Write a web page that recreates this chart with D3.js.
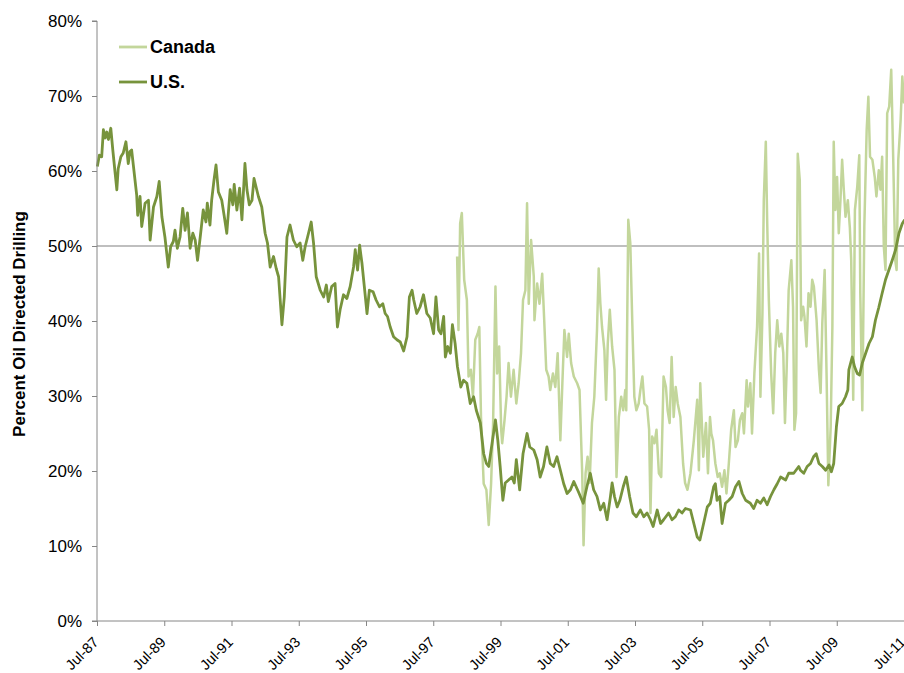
<!DOCTYPE html>
<html><head><meta charset="utf-8">
<script src="https://cdn.jsdelivr.net/npm/d3@7"></script>
<style>body{margin:0;background:#fff} svg{display:block}</style>
</head><body>
<svg id="c" width="904" height="673"></svg>
<script>
// ---- data ----
const tickLabels = ["Jul-87","Jul-89","Jul-91","Jul-93","Jul-95","Jul-97","Jul-99","Jul-01","Jul-03","Jul-05","Jul-07","Jul-09","Jul-11"];
const tickYears = [1987.5,1989.5,1991.5,1993.5,1995.5,1997.5,1999.5,2001.5,2003.5,2005.5,2007.5,2009.5,2011.5];
const yTicks = [0,10,20,30,40,50,60,70,80];
const seriesNames = ["Canada","U.S."];
const referenceLevel = 50;

const usDates = [1987.51,1987.57,1987.64,1987.69,1987.74,1987.79,1987.84,1987.91,1987.97,1988.04,1988.09,1988.13,1988.21,1988.28,1988.36,1988.43,1988.48,1988.53,1988.58,1988.68,1988.71,1988.78,1988.83,1988.93,1989.03,1989.08,1989.18,1989.28,1989.35,1989.43,1989.52,1989.62,1989.69,1989.77,1989.82,1989.89,1989.97,1990.05,1990.12,1990.19,1990.27,1990.35,1990.42,1990.49,1990.57,1990.66,1990.74,1990.78,1990.86,1990.91,1990.98,1991.04,1991.11,1991.21,1991.28,1991.36,1991.46,1991.54,1991.58,1991.66,1991.74,1991.81,1991.90,1991.96,1992.03,1992.11,1992.17,1992.30,1992.40,1992.50,1992.57,1992.65,1992.75,1992.83,1992.90,1993.00,1993.07,1993.15,1993.24,1993.34,1993.44,1993.54,1993.62,1993.69,1993.79,1993.87,1993.94,1994.02,1994.14,1994.24,1994.32,1994.38,1994.48,1994.58,1994.65,1994.73,1994.83,1994.93,1995.03,1995.13,1995.18,1995.25,1995.31,1995.38,1995.45,1995.53,1995.60,1995.71,1995.80,1995.90,1996.00,1996.07,1996.14,1996.22,1996.32,1996.42,1996.52,1996.62,1996.72,1996.79,1996.87,1996.92,1997.01,1997.11,1997.21,1997.31,1997.41,1997.51,1997.58,1997.66,1997.73,1997.81,1997.86,1997.93,1998.01,1998.07,1998.15,1998.22,1998.32,1998.40,1998.50,1998.60,1998.70,1998.78,1998.90,1999.00,1999.08,1999.15,1999.25,1999.35,1999.42,1999.49,1999.57,1999.64,1999.74,1999.84,1999.91,1999.97,2000.07,2000.17,2000.29,2000.37,2000.49,2000.59,2000.68,2000.78,2000.88,2000.98,2001.08,2001.18,2001.28,2001.38,2001.48,2001.58,2001.68,2001.82,2001.96,2002.07,2002.17,2002.27,2002.37,2002.47,2002.57,2002.67,2002.77,2002.82,2002.89,2002.97,2003.05,2003.15,2003.24,2003.34,2003.44,2003.54,2003.66,2003.76,2003.86,2003.96,2004.04,2004.16,2004.26,2004.35,2004.50,2004.60,2004.70,2004.80,2004.90,2005.00,2005.15,2005.25,2005.35,2005.43,2005.54,2005.65,2005.74,2005.84,2005.89,2005.94,2006.02,2006.09,2006.19,2006.29,2006.39,2006.49,2006.59,2006.69,2006.79,2006.93,2007.03,2007.13,2007.23,2007.33,2007.43,2007.53,2007.63,2007.73,2007.83,2007.98,2008.07,2008.22,2008.37,2008.42,2008.52,2008.62,2008.72,2008.81,2008.89,2008.97,2009.07,2009.17,2009.27,2009.34,2009.41,2009.49,2009.56,2009.66,2009.76,2009.83,2009.86,2009.96,2010.03,2010.11,2010.18,2010.26,2010.36,2010.46,2010.56,2010.65,2010.75,2010.85,2010.95,2011.05,2011.15,2011.25,2011.35,2011.45,2011.52];
const usValues = [60.6,62.1,61.9,65.5,64.4,65.2,64.2,65.7,62.8,59.7,57.5,60.3,61.9,62.4,63.9,61.0,62.6,62.8,60.8,56.8,54.1,56.6,52.6,55.7,56.1,50.8,55.2,56.6,58.6,53.9,51.2,47.2,49.9,50.6,52.1,49.7,51.2,55.0,52.1,54.4,49.7,51.7,50.8,48.1,51.2,54.8,53.2,55.7,52.8,56.1,58.8,60.8,57.2,56.1,54.1,51.7,57.5,55.5,58.2,54.8,57.7,53.5,61.0,57.5,55.5,56.1,59.0,56.6,55.2,51.7,50.4,47.2,48.6,47.0,45.9,39.5,43.2,51.2,52.8,50.8,49.9,50.4,48.1,49.9,51.7,53.2,50.4,45.9,44.1,43.2,44.8,42.6,44.6,45.0,39.2,41.5,43.5,43.0,44.6,47.2,49.5,46.8,50.1,47.7,44.6,41.0,44.1,43.9,42.8,41.9,42.3,41.0,40.6,39.2,37.9,37.5,37.2,36.0,37.9,43.2,44.1,42.8,41.0,41.9,43.5,41.0,40.4,38.3,43.2,38.8,38.3,40.6,35.2,36.6,35.7,39.5,37.0,33.9,31.2,32.1,31.7,29.0,29.9,28.1,26.4,22.3,21.0,20.6,23.7,26.8,24.1,20.6,16.1,18.4,18.8,19.2,18.4,21.5,17.5,22.3,25.0,23.2,22.8,21.5,19.2,20.6,23.2,21.0,20.6,21.9,20.1,18.3,17.0,17.5,18.6,17.2,15.7,17.9,19.7,17.5,16.6,14.8,15.7,13.5,16.6,18.4,16.6,15.2,16.1,17.9,19.2,16.6,14.4,13.9,14.8,13.9,14.4,13.5,12.6,14.8,13.0,13.5,14.4,13.5,13.9,14.8,14.4,15.0,14.8,13.0,11.2,10.8,13.0,15.2,15.7,17.9,18.3,16.1,16.6,13.0,15.7,16.1,16.6,17.9,18.6,17.0,16.1,15.7,15.0,16.1,15.7,16.4,15.5,16.6,17.5,18.3,19.2,18.8,19.7,19.7,20.6,20.1,19.7,20.6,21.0,21.9,22.3,21.0,20.6,20.1,20.8,19.9,21.0,25.9,28.6,29.0,29.9,30.8,33.5,35.2,33.9,33.0,32.8,34.4,35.7,37.0,37.9,40.1,41.8,43.7,45.5,46.8,48.1,49.5,51.7,53.0,53.5];

const caDates = [1998.21,1998.25,1998.30,1998.35,1998.42,1998.50,1998.55,1998.62,1998.68,1998.75,1998.82,1998.87,1998.92,1999.00,1999.08,1999.15,1999.22,1999.28,1999.35,1999.40,1999.46,1999.52,1999.55,1999.62,1999.68,1999.74,1999.81,1999.89,1999.97,2000.04,2000.11,2000.17,2000.24,2000.29,2000.34,2000.41,2000.49,2000.51,2000.59,2000.66,2000.74,2000.80,2000.86,2000.93,2000.98,2001.06,2001.13,2001.20,2001.28,2001.34,2001.40,2001.48,2001.53,2001.60,2001.68,2001.78,2001.85,2001.93,2001.97,2002.03,2002.09,2002.15,2002.22,2002.29,2002.37,2002.42,2002.47,2002.52,2002.59,2002.64,2002.69,2002.75,2002.82,2002.89,2002.95,2003.02,2003.09,2003.15,2003.21,2003.24,2003.30,2003.36,2003.42,2003.48,2003.54,2003.61,2003.66,2003.72,2003.78,2003.86,2003.92,2003.96,2004.01,2004.08,2004.14,2004.21,2004.28,2004.35,2004.42,2004.47,2004.53,2004.59,2004.65,2004.71,2004.77,2004.85,2004.93,2004.99,2005.06,2005.15,2005.25,2005.35,2005.40,2005.44,2005.53,2005.61,2005.67,2005.73,2005.77,2005.82,2005.89,2005.96,2006.02,2006.09,2006.16,2006.22,2006.29,2006.36,2006.44,2006.49,2006.56,2006.62,2006.69,2006.74,2006.82,2006.86,2006.93,2006.98,2007.05,2007.13,2007.19,2007.23,2007.29,2007.33,2007.39,2007.43,2007.48,2007.55,2007.61,2007.67,2007.73,2007.79,2007.85,2007.91,2007.96,2008.01,2008.07,2008.15,2008.20,2008.24,2008.29,2008.34,2008.40,2008.44,2008.50,2008.54,2008.60,2008.66,2008.72,2008.77,2008.82,2008.90,2008.97,2009.02,2009.07,2009.14,2009.20,2009.25,2009.32,2009.37,2009.41,2009.46,2009.51,2009.56,2009.61,2009.66,2009.71,2009.76,2009.83,2009.89,2009.93,2009.99,2010.04,2010.11,2010.17,2010.20,2010.26,2010.32,2010.39,2010.44,2010.49,2010.56,2010.63,2010.68,2010.75,2010.80,2010.85,2010.90,2010.95,2011.00,2011.06,2011.12,2011.18,2011.24,2011.28,2011.33,2011.40,2011.45,2011.50];
const caValues = [48.6,38.8,53.0,54.4,45.5,42.8,32.6,33.5,29.9,37.5,38.3,39.2,27.2,18.3,17.5,12.8,18.3,26.4,44.6,33.0,36.6,25.5,23.7,26.8,29.9,34.4,29.9,33.5,29.0,31.7,35.7,42.8,44.1,55.7,42.3,50.8,45.9,40.1,45.0,42.3,46.3,40.1,33.5,32.6,30.8,33.0,31.2,35.7,24.1,31.7,38.8,35.2,38.3,34.4,32.6,31.7,30.8,19.7,10.1,19.7,21.9,18.4,26.4,29.9,38.8,47.0,42.3,39.2,36.1,29.5,37.0,41.5,36.6,33.5,19.2,27.2,29.9,28.1,30.8,28.1,53.5,50.4,39.7,29.9,28.1,29.0,30.8,32.6,29.0,28.6,25.5,14.4,24.6,23.7,25.5,19.7,19.2,32.6,31.2,28.1,26.4,35.2,27.2,31.2,29.0,27.2,21.0,18.4,17.5,19.7,24.1,29.5,20.1,31.7,21.9,26.4,19.7,27.2,25.0,24.1,21.0,19.2,19.7,17.9,20.1,17.0,21.0,25.5,28.1,23.2,24.1,26.8,27.7,25.0,32.1,28.6,31.7,25.0,33.0,39.2,49.0,29.9,41.0,56.1,63.9,53.5,42.8,33.0,27.7,35.7,40.1,36.6,38.3,35.7,26.4,33.5,44.1,48.1,41.9,25.5,27.7,62.3,58.8,40.1,41.9,40.6,36.6,43.7,41.9,45.5,44.6,40.1,33.5,30.4,39.7,46.8,32.1,18.1,25.9,39.2,63.9,54.8,59.2,51.7,56.1,61.5,57.5,53.9,56.1,52.4,48.1,29.5,54.8,57.9,62.1,43.7,28.1,52.6,65.5,69.9,61.9,61.5,59.2,56.6,60.1,57.5,61.9,49.9,46.8,67.7,68.6,73.5,61.5,48.1,46.8,61.5,66.8,72.6,69.0];

// ---- chart ----
const plot = {left: 97, right: 904, top: 21, bottom: 621};
const svg = d3.select("#c");
const FONT = "'Liberation Sans', Arial, sans-serif";
const AXIS_COLOR = "#868686";
const colors = {"Canada": "#C3D69B", "U.S.": "#77933C"};

const x = d3.scaleLinear().domain([1987.5, 2011.5]).range([plot.left, plot.right]);
const y = d3.scaleLinear().domain([0, 80]).range([plot.bottom, plot.top]);

// reference line at 50%
svg.append("line")
  .attr("x1", plot.left).attr("x2", plot.right)
  .attr("y1", y(referenceLevel)).attr("y2", y(referenceLevel))
  .attr("stroke", "#BFBFBF").attr("stroke-width", 2);

// series
const line = d3.line().x(d => x(d[0])).y(d => y(d[1]));
const caData = caDates.map((d, i) => [d, caValues[i]]);
const usData = usDates.map((d, i) => [d, usValues[i]]);

svg.append("path").datum(caData)
  .attr("d", line).attr("fill", "none")
  .attr("stroke", colors["Canada"]).attr("stroke-width", 2.5)
  .attr("stroke-linejoin", "round");
svg.append("path").datum(usData)
  .attr("d", line).attr("fill", "none")
  .attr("stroke", colors["U.S."]).attr("stroke-width", 2.8)
  .attr("stroke-linejoin", "round");

// y axis
const yAxis = d3.axisLeft(y).tickValues(yTicks).tickFormat(d => d + "%").tickSize(5).tickPadding(10);
const gy = svg.append("g").attr("transform", `translate(${plot.left},0)`).call(yAxis);
gy.select(".domain").attr("stroke", AXIS_COLOR).attr("d", `M-5,${plot.top}H0V${plot.bottom}H-5`);
gy.selectAll(".tick line").attr("stroke", AXIS_COLOR);
gy.selectAll(".tick text").attr("font-family", FONT).attr("font-size", 17).attr("fill", "#000");

// x axis
const xAxis = d3.axisBottom(x).tickValues(tickYears).tickFormat((d, i) => tickLabels[i]).tickSize(5);
const gx = svg.append("g").attr("transform", `translate(0,${plot.bottom})`).call(xAxis);
gx.select(".domain").attr("stroke", AXIS_COLOR).attr("d", `M${plot.left},0H${plot.right}`);
gx.selectAll(".tick line").attr("stroke", AXIS_COLOR);
gx.selectAll(".tick text")
  .attr("font-family", FONT).attr("font-size", 14.5).attr("fill", "#000")
  .attr("text-anchor", "end")
  .attr("x", 0).attr("y", 0).attr("dy", 0)
  .attr("transform", "translate(2,22) rotate(-45)");

// y axis title
svg.append("text")
  .attr("transform", `translate(25,${(plot.top + plot.bottom) / 2 + 3}) rotate(-90)`)
  .attr("text-anchor", "middle")
  .attr("font-family", FONT).attr("font-weight", "bold").attr("font-size", 17)
  .text("Percent Oil Directed Drilling");

// legend
const legend = svg.append("g");
seriesNames.forEach((name, i) => {
  const ly = 47 + i * 35;
  legend.append("line").attr("x1", 119).attr("x2", 147).attr("y1", ly).attr("y2", ly)
    .attr("stroke", colors[name]).attr("stroke-width", 2.8);
  legend.append("text").attr("x", 150).attr("y", ly).attr("dy", "0.35em")
    .attr("font-family", FONT).attr("font-weight", "bold").attr("font-size", 18)
    .text(name);
});
</script>
</body></html>
